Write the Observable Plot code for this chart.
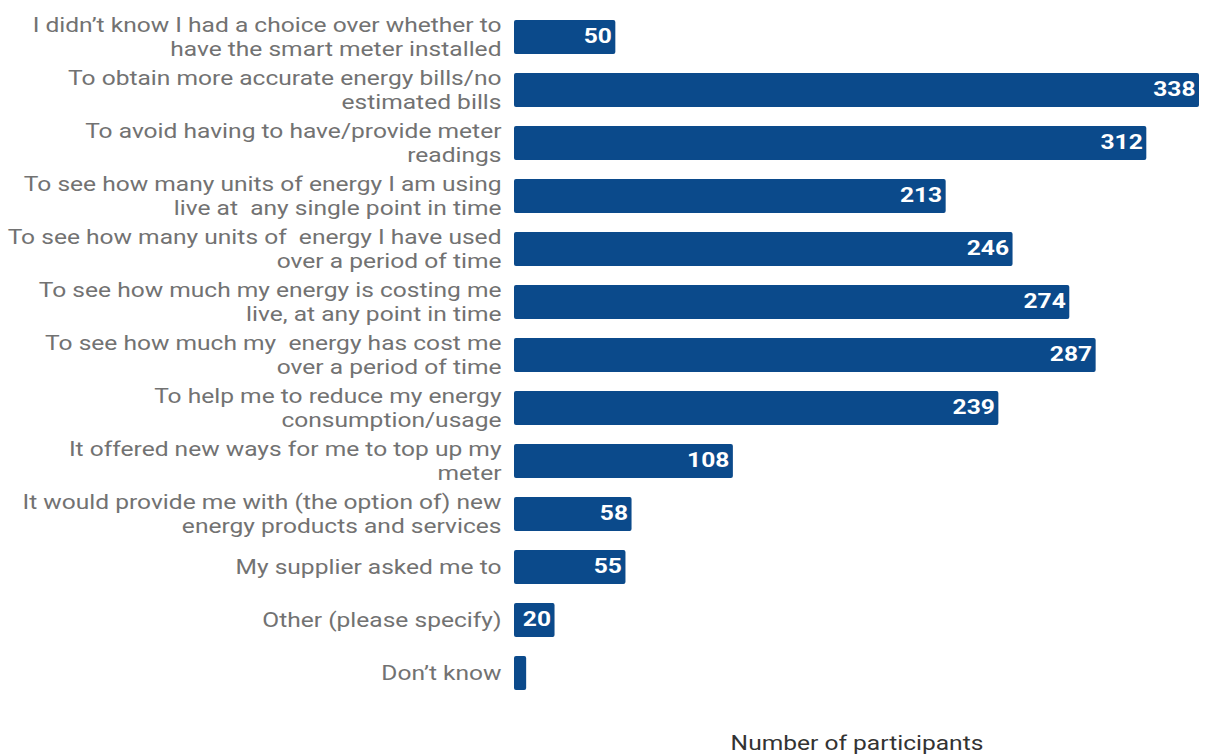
<!DOCTYPE html>
<html>
<head>
<meta charset="utf-8">
<script src="https://cdn.jsdelivr.net/npm/d3@7"></script>
<script src="https://cdn.jsdelivr.net/npm/@observablehq/plot@0.6"></script>
<style>
  html, body { margin: 0; padding: 0; background: #fff; }
  #chart { width: 1206px; height: 755px; }
</style>
</head>
<body>
<div id="chart"></div>
<script>
const categories = [
  "I didn\u2019t know I had a choice over whether to\nhave the smart meter installed",
  "To obtain more accurate energy bills/no\nestimated bills",
  "To avoid having to have/provide meter\nreadings",
  "To see how many units of energy I am using\nlive at  any single point in time",
  "To see how many units of  energy I have used\nover a period of time",
  "To see how much my energy is costing me\nlive, at any point in time",
  "To see how much my  energy has cost me\nover a period of time",
  "To help me to reduce my energy\nconsumption/usage",
  "It offered new ways for me to top up my\nmeter",
  "It would provide me with (the option of) new\nenergy products and services",
  "My supplier asked me to",
  "Other (please specify)",
  "Don\u2019t know"
];
const values = [50, 338, 312, 213, 246, 274, 287, 239, 108, 58, 55, 20, 6];
const showLabel = [true, true, true, true, true, true, true, true, true, true, true, true, false];
const xAxisLabel = "Number of participants";

const data = categories.map((c, i) => ({category: c, value: values[i], show: showLabel[i]}));

const chart = Plot.plot({
  width: 1206,
  height: 755,
  marginLeft: 514,
  marginRight: 7,
  marginTop: 0,
  marginBottom: 45,
  style: {fontFamily: "Roboto, sans-serif", background: "#fff"},
  x: {domain: [0, 338], axis: null},
  y: {domain: categories, padding: 0.36, axis: null},
  marks: [
    Plot.barX(data, {x: "value", y: "category", fill: "#0b4a8b", rx: 2}),
    Plot.text(data, {
      x: 0, y: "category", text: "category",
      textAnchor: "end", dx: -13, dy: -1, fontSize: 21, fill: "#727272", lineHeight: 1.14
    }),
    Plot.text(data.filter(d => d.show), {
      x: "value", y: "category", text: d => String(d.value),
      textAnchor: "end", dx: -4, dy: -1, fontSize: 21, fontWeight: "bold", fill: "#fff"
    }),
    Plot.text([xAxisLabel], {
      frameAnchor: "bottom", dy: 39, fontSize: 21, fill: "#333", textAnchor: "middle"
    })
  ]
});
// the reference's lettering is horizontally wider; stretch each text element about its anchor
d3.select(chart).selectAll("text").each(function () {
  const t = this.getAttribute("transform") || "";
  this.setAttribute("transform", (t + " scale(1.17,1)").trim());
});
document.getElementById("chart").appendChild(chart);
</script>
</body>
</html>
